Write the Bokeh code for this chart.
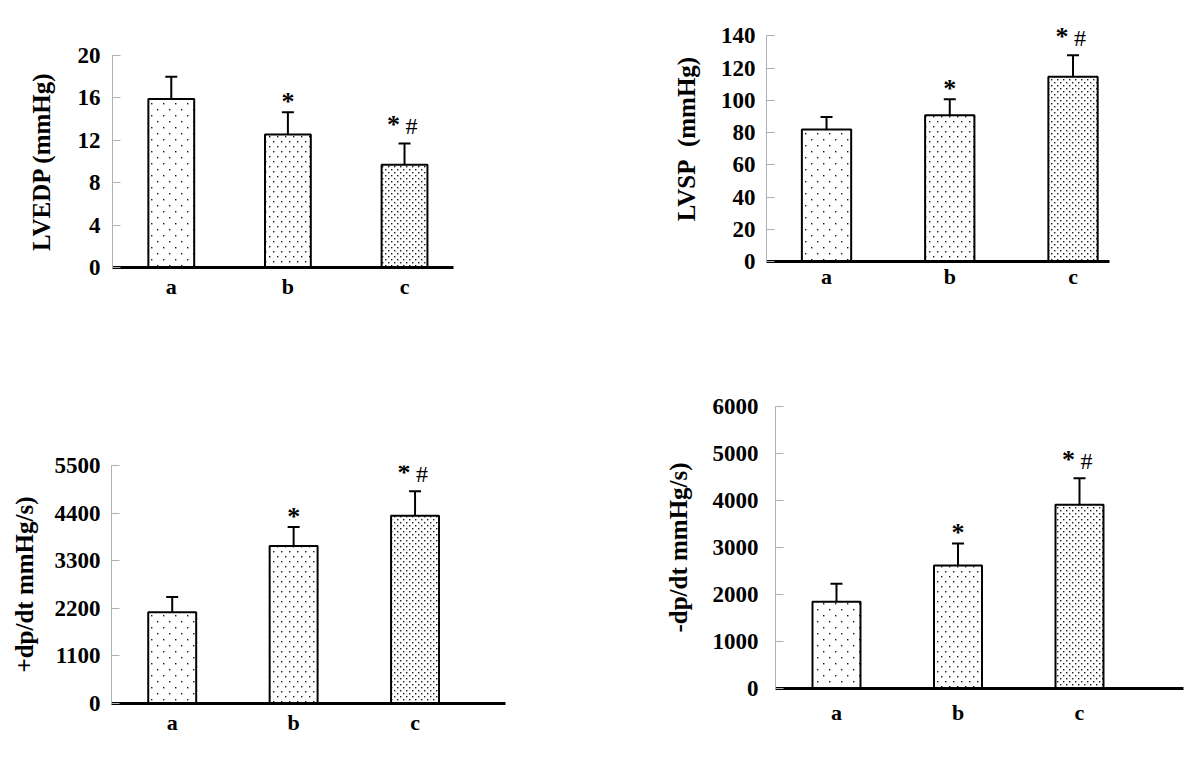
import base64
from bokeh.plotting import figure
from bokeh.models import (Range1d, FixedTicker, Whisker, TeeHead,
                          ColumnDataSource, LabelSet, ImageURLTexture)
from bokeh.layouts import column, row
from bokeh.embed import file_html
from bokeh.resources import INLINE

# ---------------- data ----------------
groups = ["a", "b", "c"]

lvedp_mean = [15.9, 12.55, 9.7]
lvedp_err = [2.1, 2.1, 2.0]

lvsp_mean = [81.9, 90.8, 114.6]
lvsp_err = [7.7, 9.9, 13.4]

pdpdt_mean = [2107, 3637, 4339]
pdpdt_err = [353, 439, 568]

ndpdt_mean = [1845, 2617, 3908]
ndpdt_err = [383, 468, 568]

star_mark = ["", "*", "*"]      # significance vs group a
hash_mark = ["", "", "#"]       # significance vs group b

lvedp_ticks = [0, 4, 8, 12, 16, 20]
lvsp_ticks = [0, 20, 40, 60, 80, 100, 120, 140]
pdpdt_ticks = [0, 1100, 2200, 3300, 4400, 5500]
ndpdt_ticks = [0, 1000, 2000, 3000, 4000, 5000, 6000]

FONT = "Liberation Serif"


def dot_tile(w, h):
    """staggered dot texture tile (styling only)"""
    svg = (f'<svg xmlns="http://www.w3.org/2000/svg" width="{w}" height="{h}">'
           f'<rect width="{w}" height="{h}" fill="white"/>'
           f'<rect x="1" y="1" width="1.4" height="1.4" fill="#1a1a1a"/>'
           f'<rect x="{1 + w / 2}" y="{1 + h / 2}" width="1.4" height="1.4" fill="#1a1a1a"/>'
           f'</svg>')
    return "data:image/svg+xml;base64," + base64.b64encode(svg.encode()).decode()


TEXTURES = {"ta": (12, 12), "tb": (8, 10), "tc": (6, 6)}
TEX_KEYS = ["ta", "tb", "tc"]


def make_panel(means, errs, ticks, ylabel, width, height, borders, xr,
               bar_w, label_standoff, axis_label_standoff, x_standoff,
               headroom=0.0):
    left, right, top, bottom = borders
    xs = [i + 1 for i in range(len(groups))]
    uppers = [m + e for m, e in zip(means, errs)]
    src = ColumnDataSource(dict(x=xs, mean=means, upper=uppers, tex=TEX_KEYS))
    p = figure(width=width, height=height,
               x_range=Range1d(xr[0], xr[1]),
               y_range=Range1d(ticks[0], ticks[-1] + headroom),
               output_backend="svg", toolbar_location=None,
               min_border_left=left, min_border_right=right,
               min_border_top=top, min_border_bottom=bottom)
    p.outline_line_color = None
    p.grid.visible = False
    p.background_fill_color = "white"
    p.border_fill_color = "white"

    extra = {k: ImageURLTexture(url=dot_tile(*TEXTURES[k]), repetition="repeat")
             for k in TEX_KEYS}
    p.vbar(x="x", top="mean", bottom=0, width=bar_w, source=src,
           fill_color="white", line_color="black", line_width=2,
           hatch_pattern="tex", hatch_extra=extra, hatch_color="black")

    p.add_layout(Whisker(source=src, base="x", upper="upper", lower="mean",
                         lower_head=None,
                         upper_head=TeeHead(size=12, line_width=2,
                                            line_color="black"),
                         line_width=2, line_color="black"))

    # significance marks
    s_src = ColumnDataSource(dict(
        x=[x for x, s in zip(xs, star_mark) if s],
        y=[u for u, s in zip(uppers, star_mark) if s],
        t=[s for s in star_mark if s],
        dx=[(-11 if h else 0) for s, h in zip(star_mark, hash_mark) if s],
        dy=[(19 if h else 11) for s, h in zip(star_mark, hash_mark) if s]))
    p.add_layout(LabelSet(x="x", y="y", text="t", x_offset="dx", y_offset="dy",
                          source=s_src, text_font=FONT,
                          text_font_style="bold", text_font_size="26px",
                          text_align="center", text_baseline="middle",
                          text_color="black"))
    h_src = ColumnDataSource(dict(
        x=[x for x, h in zip(xs, hash_mark) if h],
        y=[u for u, h in zip(uppers, hash_mark) if h],
        t=[h for h in hash_mark if h]))
    p.add_layout(LabelSet(x="x", y="y", text="t", x_offset=7, y_offset=17,
                          source=h_src, text_font=FONT,
                          text_font_style="normal", text_font_size="24px",
                          text_align="center", text_baseline="middle",
                          text_color="black"))

    # x axis
    xa = p.xaxis[0]
    xa.ticker = FixedTicker(ticks=xs)
    xa.major_label_overrides = {x: g for x, g in zip(xs, groups)}
    xa.axis_line_color = "black"
    xa.axis_line_width = 3
    xa.major_tick_line_color = None
    xa.minor_tick_line_color = None
    xa.major_label_standoff = x_standoff
    xa.major_label_text_font = FONT
    xa.major_label_text_font_style = "bold"
    xa.major_label_text_font_size = "22px"
    xa.major_label_text_color = "black"

    # y axis
    ya = p.yaxis[0]
    ya.ticker = FixedTicker(ticks=ticks)
    ya.bounds = (ticks[0], ticks[-1])
    ya.axis_line_color = "#b0b0b0"
    ya.axis_line_width = 1
    ya.major_tick_line_color = "#b0b0b0"
    ya.major_tick_in = 8
    ya.major_tick_out = 0
    ya.minor_tick_line_color = None
    ya.major_label_standoff = label_standoff
    ya.major_label_text_font = FONT
    ya.major_label_text_font_style = "bold"
    ya.major_label_text_font_size = "23px"
    ya.major_label_text_color = "black"
    ya.axis_label = ylabel
    ya.axis_label_standoff = axis_label_standoff
    ya.axis_label_text_font = FONT
    ya.axis_label_text_font_style = "bold"
    ya.axis_label_text_font_size = "25px"
    ya.axis_label_text_color = "black"
    return p


p1 = make_panel(lvedp_mean, lvedp_err, lvedp_ticks, "LVEDP (mmHg)",
                600, 380, (112, 147, 55, 113), (0.496, 3.42), 0.393, 12, 20, 0)
p3 = make_panel(pdpdt_mean, pdpdt_err, pdpdt_ticks, "+dp/dt mmHg/s)",
                600, 380, (111, 95, 85, 57), (0.5, 3.745), 0.395, 11, 14, 0)
p2 = make_panel(lvsp_mean, lvsp_err, lvsp_ticks, "LVSP\u00a0 (mmHg)",
                592, 380, (166, 83, 16, 119), (0.513, 3.296), 0.40, 11, 18, -4,
                headroom=12)
p4 = make_panel(ndpdt_mean, ndpdt_err, ndpdt_ticks, "-dp/dt mmHg/s)",
                592, 380, (175, 9, 26, 72), (0.498, 3.856), 0.395, 17, 18, 5)

layout = row(column(row(p1), row(p3)), column(row(p2), row(p4)))
open("out.html", "w").write(file_html(layout, INLINE))
